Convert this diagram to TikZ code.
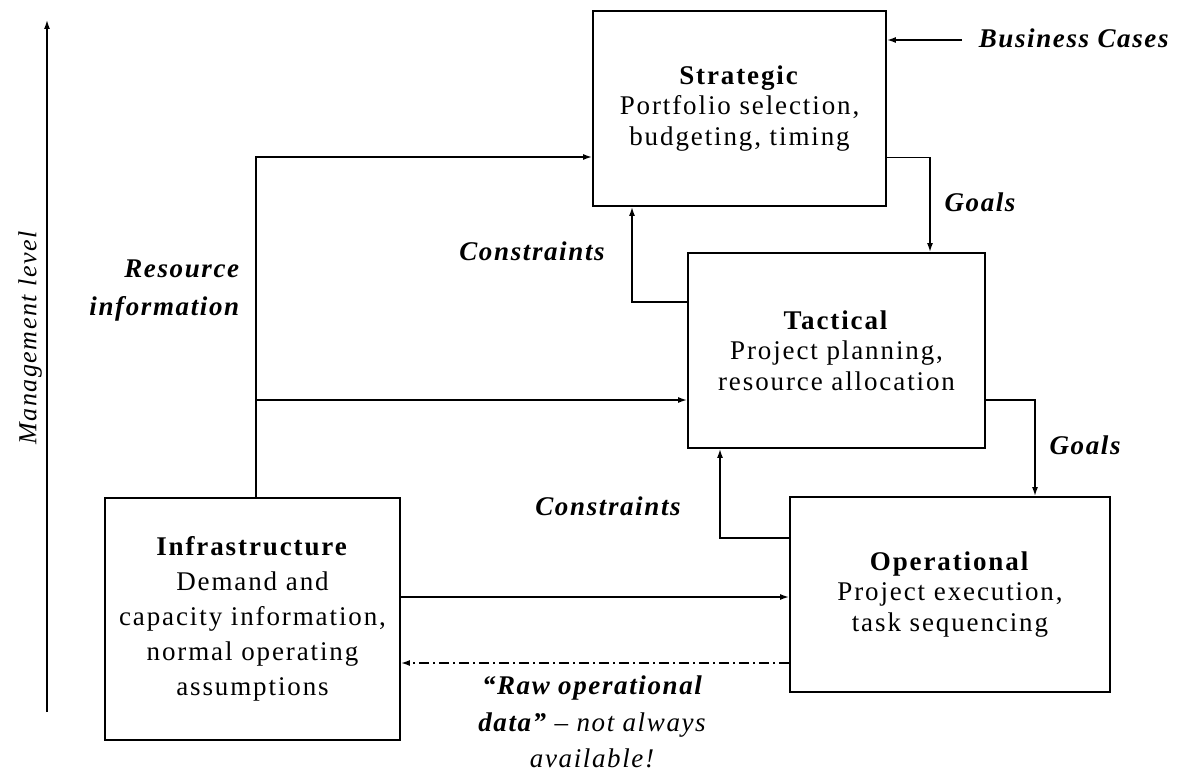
\documentclass[tikz,border=0pt]{standalone}
\usepackage{fontspec}
\setmainfont{Liberation Serif}
\usetikzlibrary{arrows.meta}
\begin{document}
\begin{tikzpicture}[x=1pt,y=-1pt,line width=1.6pt,
  box/.style={draw,line width=1.8pt,inner sep=0pt,align=center,
    font=\fontsize{27}{30.5}\selectfont\addfontfeatures{LetterSpace=7}},
  arr/.style={-{Latex[length=9pt,width=6pt]}},
  lab/.style={font=\fontsize{27}{38}\selectfont\bfseries\itshape\addfontfeatures{LetterSpace=6},inner sep=0pt},
  axlab/.style={font=\fontsize{26}{28}\selectfont\itshape\addfontfeatures{LetterSpace=6},inner sep=0pt}]
\useasboundingbox (0,0) rectangle (1183,776);
\node[box,minimum width=293pt,minimum height=195pt] (strat) at (739.5,108.5)
  {\textbf{Strategic}\\Portfolio selection,\\budgeting, timing};
\node[box,minimum width=297pt,minimum height=195pt] (tact) at (836.5,350.5)
  {\textbf{Tactical}\\Project planning,\\resource allocation};
\node[box,minimum width=320pt,minimum height=195pt] (op) at (950,594.5)
  {\textbf{Operational}\\Project execution,\\task sequencing};
\node[box,minimum width=295pt,minimum height=242pt,font=\fontsize{27}{35}\selectfont\addfontfeatures{LetterSpace=7}] (infra) at (252.5,619)
  {\textbf{Infrastructure}\\Demand and\\capacity information,\\normal operating\\assumptions};
% business cases
\coordinate (bc) at (962,40);
\draw[arr] (bc) -- (bc -| strat.east);
\node[lab,anchor=west] (bclab) at (978,38) {Business Cases};
% goals
\draw[arr] ([yshift=-49pt]strat.east) -| ([xshift=93.5pt]tact.north);
\node[lab] (g1) at (980,202) {Goals};
\draw[arr] ([yshift=-49.5pt]tact.east) -| ([xshift=85pt]op.north);
\node[lab] (g2) at (1085,445) {Goals};
% constraints
\draw[arr] ([yshift=48.5pt]tact.west) -| ([xshift=-107.5pt]strat.south);
\node[lab] (c1) at (532,251) {Constraints};
\draw[arr] ([yshift=56.5pt]op.west) -| ([xshift=-116.5pt]tact.south);
\node[lab] (c2) at (608,506) {Constraints};
% resource information
\draw[arr] ([xshift=3.5pt]infra.north) |- ([yshift=-48.5pt]strat.west);
\coordinate (br) at (256,400);
\draw[arr] (br) -- (br -| tact.west);
\node[lab,align=right,anchor=east] (ri) at (240,291) {Resource\\information};
% infra to operational
\path ([yshift=22pt]infra.east) coordinate (io);
\draw[arr] (io) -- (io -| op.west);
% raw data
\path ([yshift=-68.5pt]op.west) coordinate (rw);
\draw[arr,dash pattern=on 10pt off 4pt on 2pt off 4pt] (rw) -- (rw -| infra.east);
\node[inner sep=0pt,align=center,font=\fontsize{27}{36.5}\selectfont\itshape\addfontfeatures{LetterSpace=6}] (rawlab) at (592,722)
  {\textbf{``Raw operational}\\\textbf{data''} -- not always\\available!};
% axis
\coordinate (ax0) at (47,712);
\coordinate (ax1) at (47,20);
\draw[arr,line width=1.4pt] (ax0) -- (ax1);
\node[axlab,rotate=90] (axl) at (30,338) {Management level};
\end{tikzpicture}
\end{document}
